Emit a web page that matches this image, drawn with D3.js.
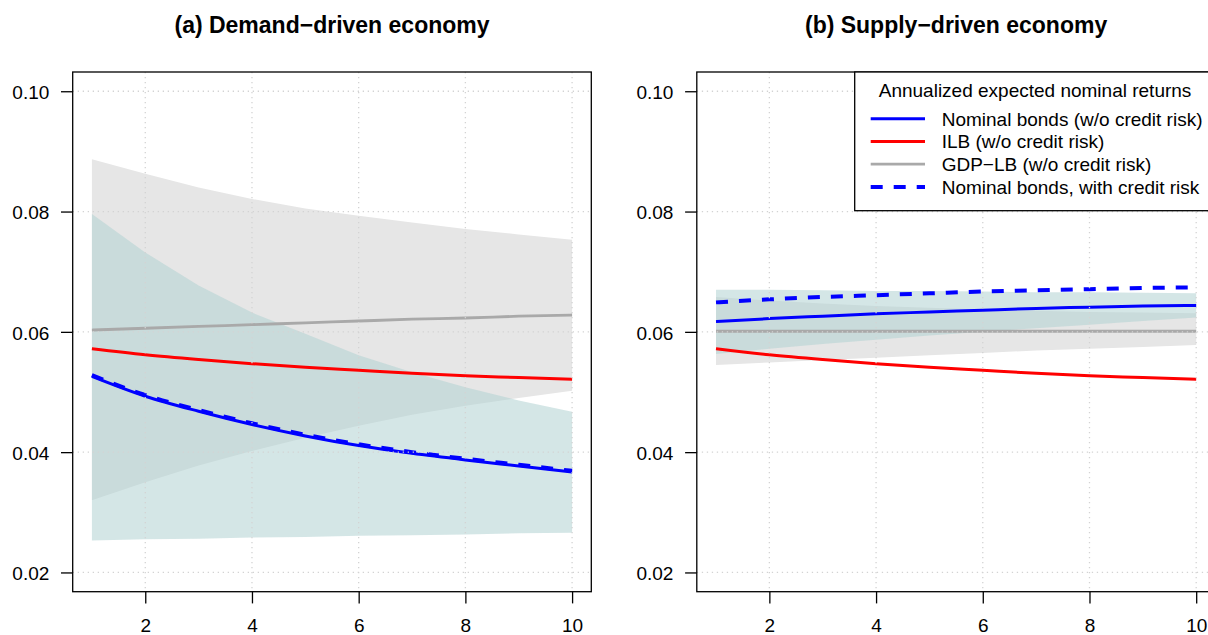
<!DOCTYPE html>
<html>
<head>
<meta charset="utf-8">
<script src="https://cdn.jsdelivr.net/npm/d3@7"></script>
<style>
  body { margin: 0; background: #fff; }
  svg { display: block; font-family: "Liberation Sans", Arial, Helvetica, sans-serif; }
</style>
</head>
<body>
<div id="chart"></div>
<script>
// ---------------- data ----------------
let maturity = [1, 2, 3, 4, 5, 6, 7, 8, 9, 10];
let xTicks = [2, 4, 6, 8, 10];
let yTicks = [0.02, 0.04, 0.06, 0.08, 0.10];

// (a) demand-driven
let aNom   = [0.0526, 0.0493, 0.0468, 0.0446, 0.0427, 0.0411, 0.0398, 0.0387, 0.0377, 0.0367];
let aNomCR = [0.0528, 0.0495, 0.0470, 0.0448, 0.0429, 0.0413, 0.0400, 0.0389, 0.0379, 0.0369];
let aIlb   = [0.0572, 0.0562, 0.0554, 0.0547, 0.0541, 0.0536, 0.0531, 0.0527, 0.0524, 0.0521];
let aGdp   = [0.0603, 0.0606, 0.0609, 0.0612, 0.0615, 0.0618, 0.0621, 0.0623, 0.0626, 0.0628];
let aNomLo = [0.0253, 0.0255, 0.0256, 0.0258, 0.0259, 0.0261, 0.0262, 0.0263, 0.0265, 0.0266];
let aNomHi = [0.0796, 0.0732, 0.0677, 0.0632, 0.0597, 0.0561, 0.0533, 0.0508, 0.0486, 0.0467];
let aGdpLo = [0.0320, 0.0350, 0.0378, 0.0402, 0.0424, 0.0444, 0.0462, 0.0477, 0.0490, 0.0502];
let aGdpHi = [0.0887, 0.0863, 0.0840, 0.0821, 0.0805, 0.0793, 0.0782, 0.0771, 0.0762, 0.0753];

// (b) supply-driven
let bNom   = [0.0617, 0.0622, 0.0626, 0.0630, 0.0633, 0.0636, 0.0639, 0.0641, 0.0643, 0.0644];
let bNomCR = [0.0649, 0.0654, 0.0658, 0.0661, 0.0664, 0.0667, 0.0669, 0.0671, 0.0673, 0.0674];
let bIlb   = [0.0572, 0.0562, 0.0554, 0.0547, 0.0541, 0.0536, 0.0531, 0.0527, 0.0524, 0.0521];
let bGdp   = [0.0601, 0.0601, 0.0601, 0.0601, 0.0601, 0.0601, 0.0601, 0.0601, 0.0601, 0.0601];
let bNomLo = [0.0563, 0.0572, 0.0580, 0.0587, 0.0594, 0.0600, 0.0606, 0.0612, 0.0618, 0.0624];
let bNomHi = [0.0670, 0.0670, 0.0669, 0.0668, 0.0668, 0.0667, 0.0666, 0.0666, 0.0665, 0.0664];
let bGdpLo = [0.0545, 0.0549, 0.0553, 0.0557, 0.0561, 0.0565, 0.0569, 0.0572, 0.0575, 0.0578];
let bGdpHi = [0.0658, 0.0652, 0.0647, 0.0643, 0.0640, 0.0637, 0.0635, 0.0633, 0.0632, 0.0631];

let legendTitle = "Annualized expected nominal returns";
let legendLabels = ["Nominal bonds (w/o credit risk)", "ILB (w/o credit risk)", "GDP\u2212LB (w/o credit risk)", "Nominal bonds, with credit risk"];

// ---------------- layout ----------------
let width = 1208, height = 635;
let plotTop = 72, plotBottom = 591.7, plotW = 518.6;
let fontSize = 19, titleSize = 23;

let svg = d3.select("#chart").append("svg")
  .attr("width", width)
  .attr("height", height);

let colBlue = "#0000ff", colRed = "#ff0000", colGray = "#a9a9a9";

function drawPanel(left, title, d, withLegend) {
  let xScale = d3.scaleLinear().domain([0.64, 10.36]).range([left, left + plotW]);
  let yScale = d3.scaleLinear().domain([0.0168, 0.1032]).range([plotBottom, plotTop]);

  let g = svg.append("g");

  let band = function(lo, hi) {
    return d3.area()
      .x(function(v, i) { return xScale(maturity[i]); })
      .y0(function(v, i) { return yScale(lo[i]); })
      .y1(function(v, i) { return yScale(hi[i]); })(lo);
  };
  let line = d3.line().curve(d3.curveMonotoneX)
    .x(function(v, i) { return xScale(maturity[i]); }).y(function(v) { return yScale(v); });

  // confidence bands
  g.append("path").attr("d", band(d.gdpLo, d.gdpHi)).attr("fill", "#e6e6e6");
  g.append("path").attr("d", band(d.nomLo, d.nomHi)).attr("fill", "rgb(178,210,210)").attr("fill-opacity", 0.56);

  // lines
  g.append("path").attr("d", line(d.gdp)).attr("fill", "none").attr("stroke", colGray).attr("stroke-width", 2.8);
  g.append("path").attr("d", line(d.ilb)).attr("fill", "none").attr("stroke", colRed).attr("stroke-width", 3);
  g.append("path").attr("d", line(d.nom)).attr("fill", "none").attr("stroke", colBlue).attr("stroke-width", 3);
  g.append("path").attr("d", line(d.nomCR)).attr("fill", "none").attr("stroke", colBlue)
    .attr("stroke-width", 4).attr("stroke-dasharray", "12,11");

  // dotted grid on top
  let grid = g.append("g").attr("stroke", "#d3d3d3").attr("stroke-width", 1.3).attr("stroke-dasharray", "1.3,3.7");
  grid.selectAll(".gx").data(xTicks).enter().append("line")
    .attr("x1", function(t) { return xScale(t); }).attr("x2", function(t) { return xScale(t); })
    .attr("y1", plotTop).attr("y2", plotBottom);
  grid.selectAll(".gy").data(yTicks).enter().append("line")
    .attr("x1", left).attr("x2", left + plotW)
    .attr("y1", function(t) { return yScale(t); }).attr("y2", function(t) { return yScale(t); });

  // box
  g.append("rect").attr("x", left).attr("y", plotTop).attr("width", plotW).attr("height", plotBottom - plotTop)
    .attr("fill", "none").attr("stroke", "#000").attr("stroke-width", 1.3);

  // axes
  let x_ax = g.append("g").attr("transform", `translate(0,${plotBottom})`)
    .call(d3.axisBottom(xScale).tickValues(xTicks).tickSize(11.7).tickPadding(15.5).tickFormat(d3.format("d")));
  let y_ax = g.append("g").attr("transform", `translate(${left},0)`)
    .call(d3.axisLeft(yScale).tickValues(yTicks).tickSize(11.7).tickPadding(11.7).tickFormat(d3.format(".2f")));
  [x_ax, y_ax].forEach(function(ax) {
    ax.select(".domain").remove();
    ax.selectAll("line").attr("stroke", "#000").attr("stroke-width", 1.3);
    ax.selectAll("text").attr("fill", "#000").attr("font-size", fontSize).attr("font-family", null);
  });
  y_ax.selectAll("text").attr("dy", "0.39em");

  // title
  svg.append("text").attr("x", left + plotW / 2).attr("y", 32.5).attr("text-anchor", "middle")
    .attr("font-size", titleSize).attr("font-weight", "bold").text(title);

  if (withLegend) {
    let lx = 854.7, ly = plotTop, lh = 138.7;
    let leg = g.append("g");
    leg.append("rect").attr("x", lx).attr("y", ly).attr("width", left + plotW - lx).attr("height", lh)
      .attr("fill", "#fff").attr("stroke", "#000").attr("stroke-width", 1.3);
    leg.append("text").attr("x", (lx + left + plotW) / 2).attr("y", 97).attr("text-anchor", "middle")
      .attr("font-size", fontSize).text(legendTitle);
    let styles = [
      { c: colBlue, w: 3, dash: null },
      { c: colRed, w: 3, dash: null },
      { c: colGray, w: 2.8, dash: null },
      { c: colBlue, w: 4, dash: "12,11" }
    ];
    let rowY = d3.scaleLinear().domain([0, 3]).range([118.7, 186.9]);
    legendLabels.forEach(function(lab, i) {
      let y = rowY(i);
      leg.append("line").attr("x1", 870.7).attr("x2", 925).attr("y1", y).attr("y2", y)
        .attr("stroke", styles[i].c).attr("stroke-width", styles[i].w).attr("stroke-dasharray", styles[i].dash);
      leg.append("text").attr("x", 941.7).attr("y", y).attr("dy", "0.36em").attr("font-size", fontSize).text(lab);
    });
  }
}

drawPanel(72.7, "(a) Demand\u2212driven economy",
  { nom: aNom, nomCR: aNomCR, ilb: aIlb, gdp: aGdp, nomLo: aNomLo, nomHi: aNomHi, gdpLo: aGdpLo, gdpHi: aGdpHi }, false);
drawPanel(696.8, "(b) Supply\u2212driven economy",
  { nom: bNom, nomCR: bNomCR, ilb: bIlb, gdp: bGdp, nomLo: bNomLo, nomHi: bNomHi, gdpLo: bGdpLo, gdpHi: bGdpHi }, true);
</script>
</body>
</html>
